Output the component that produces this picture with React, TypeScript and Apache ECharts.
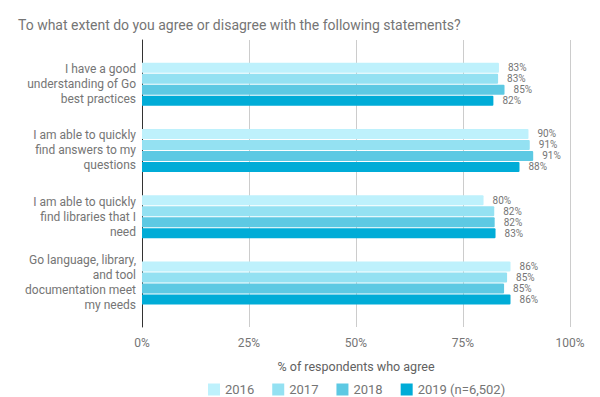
import React, { useEffect, useRef } from "react";
import * as echarts from "echarts";

const categories = [
  "I have a good\nunderstanding of Go\nbest practices",
  "I am able to quickly\nfind answers to my\nquestions",
  "I am able to quickly\nfind libraries that I\nneed",
  "Go language, library,\nand tool\ndocumentation meet\nmy needs",
];
const seriesNames = ["2016", "2017", "2018", "2019 (n=6,502)"];
const values2016 = [83.4, 90.3, 79.8, 86.1];
const values2017 = [83.2, 90.6, 82.3, 85.3];
const values2018 = [84.7, 91.4, 82.4, 84.6];
const values2019 = [82.1, 88.2, 82.6, 86.1];
const seriesColors = ["#BEF1FC", "#94E1F2", "#5DC9E3", "#00ACD7"];
const xTicks = [0, 25, 50, 75, 100];

export default function App() {
  const ref = useRef<HTMLDivElement>(null);
  useEffect(() => {
    if (!ref.current) return;
    const chart = echarts.init(ref.current, undefined, { renderer: "svg" });
    const allValues = [values2016, values2017, values2018, values2019];
    const font = "Roboto";
    const series: any[] = allValues.map((vals, i) => ({
      name: seriesNames[i],
      type: "bar",
      xAxisIndex: 1,
      yAxisIndex: 1,
      data: vals,
      barWidth: 10,
      barGap: "10%",
      itemStyle: { color: seriesColors[i], borderRadius: [0, 1, 1, 0] },
      label: {
        show: true,
        position: "right",
        distance: 9,
        fontFamily: font,
        fontSize: 10,
        color: "#757575",
        formatter: (p: any) => Math.round(p.value) + "%",
      },
    }));
    chart.setOption({
      animation: false,
      backgroundColor: "#ffffff",
      textStyle: { fontFamily: font },
      title: {
        text: "To what extent do you agree or disagree with the following statements?",
        left: 13,
        top: 13,
        textStyle: { fontFamily: font, fontSize: 14, fontWeight: "normal", color: "#757575" },
      },
      legend: {
        data: seriesNames,
        left: 203,
        top: 378,
        itemWidth: 12,
        itemHeight: 12,
        itemGap: 18,
        icon: "rect",
        textStyle: { fontFamily: font, fontSize: 13, color: "#757575" },
      },
      grid: [
        { left: 142, right: 30, top: 40, bottom: 70 },
        { left: 142, right: 30, top: 51, bottom: 81 },
      ],
      xAxis: [
        {
          type: "value",
          gridIndex: 0,
          min: 0,
          max: 100,
          interval: 25,
          axisLine: { show: false },
          axisTick: { show: false },
          splitLine: { show: true, lineStyle: { color: "#cccccc", width: 1 } },
          axisLabel: {
            formatter: (v: number) => (xTicks.includes(v) ? v + "%" : ""),
            fontFamily: font,
            fontSize: 12,
            color: "#757575",
            margin: 10,
          },
          name: "% of respondents who agree",
          nameLocation: "middle",
          nameGap: 33,
          nameTextStyle: { fontFamily: font, fontSize: 12.5, color: "#616161" },
        },
        {
          type: "value",
          gridIndex: 1,
          min: 0,
          max: 100,
          show: false,
        },
      ],
      yAxis: [
        {
          type: "category",
          gridIndex: 0,
          data: ["a"],
          axisLine: { show: true, lineStyle: { color: "#333333", width: 1 } },
          axisTick: { show: false },
          axisLabel: { show: false },
          splitLine: { show: false },
        },
        {
          type: "category",
          gridIndex: 1,
          inverse: true,
          data: categories,
          axisLine: { show: false },
          axisTick: { show: false },
          axisLabel: {
            fontFamily: font,
            fontSize: 12,
            lineHeight: 15,
            color: "#757575",
            align: "right",
            margin: 6,
          },
        },
      ],
      series,
    });
    return () => chart.dispose();
  }, []);
  return (
    <div
      ref={ref}
      style={{ position: "fixed", left: 0, top: 0, width: 600, height: 397 }}
    />
  );
}
